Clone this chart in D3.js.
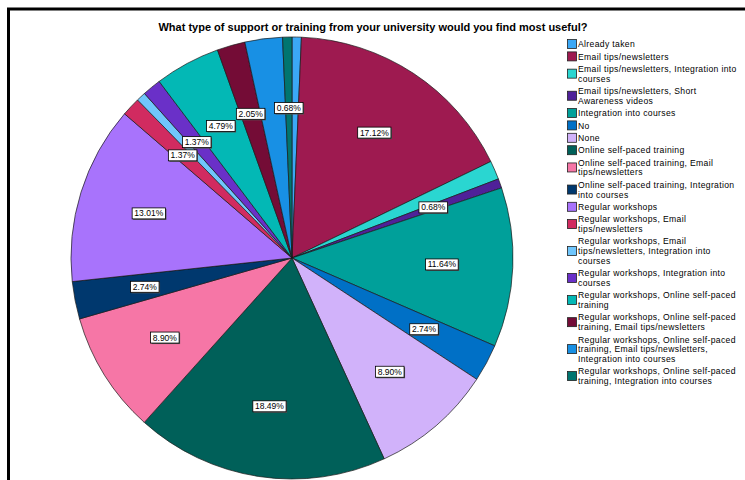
<!DOCTYPE html>
<html>
<head>
<meta charset="utf-8">
<script src="https://cdn.jsdelivr.net/npm/d3@7"></script>
<style>
  html, body { margin: 0; padding: 0; background: #ffffff; }
  svg { display: block; }
  text { font-family: "Liberation Sans", Arial, sans-serif; }
</style>
</head>
<body>
<svg id="chart" width="745" height="480"></svg>
<script>
// Survey responses: what support or training respondents would find most useful
const chartTitle = "What type of support or training from your university would you find most useful?";

const categories = [
  "Already taken",
  "Email tips/newsletters",
  "Email tips/newsletters, Integration into courses",
  "Email tips/newsletters, Short Awareness videos",
  "Integration into courses",
  "No",
  "None",
  "Online self-paced training",
  "Online self-paced training, Email tips/newsletters",
  "Online self-paced training, Integration into courses",
  "Regular workshops",
  "Regular workshops, Email tips/newsletters",
  "Regular workshops, Email tips/newsletters, Integration into courses",
  "Regular workshops, Integration into courses",
  "Regular workshops, Online self-paced training",
  "Regular workshops, Online self-paced training, Email tips/newsletters",
  "Regular workshops, Online self-paced training, Email tips/newsletters, Integration into courses",
  "Regular workshops, Online self-paced training, Integration into courses"
];

// Legend entries as wrapped lines
const legendLines = [
  ["Already taken"],
  ["Email tips/newsletters"],
  ["Email tips/newsletters, Integration into", "courses"],
  ["Email tips/newsletters, Short", "Awareness videos"],
  ["Integration into courses"],
  ["No"],
  ["None"],
  ["Online self-paced training"],
  ["Online self-paced training, Email", "tips/newsletters"],
  ["Online self-paced training, Integration", "into courses"],
  ["Regular workshops"],
  ["Regular workshops, Email", "tips/newsletters"],
  ["Regular workshops, Email", "tips/newsletters, Integration into", "courses"],
  ["Regular workshops, Integration into", "courses"],
  ["Regular workshops, Online self-paced", "training"],
  ["Regular workshops, Online self-paced", "training, Email tips/newsletters"],
  ["Regular workshops, Online self-paced", "training, Email tips/newsletters,", "Integration into courses"],
  ["Regular workshops, Online self-paced", "training, Integration into courses"]
];

// Percent of respondents per answer
const percents = [0.68, 17.12, 1.37, 0.68, 11.64, 2.74, 8.90, 18.49, 8.90, 2.74,
                  13.01, 1.37, 0.68, 1.37, 4.79, 2.05, 2.74, 0.68];

// Whether the slice carries a value label
const showLabel = [false, true, false, true, true, true, true, true, true, true,
                   true, true, false, true, true, true, false, true];

const colors = [
  "#3ba8f6", "#9e1a50", "#2ad6d1", "#4f2199", "#00a09a", "#0070c6",
  "#d1b2fa", "#006059", "#f676a6", "#00386e", "#a873fc", "#d12b60",
  "#70c6fc", "#6a30c8", "#03b8b5", "#740c36", "#1890e4", "#007570"
];

const svg = d3.select("#chart");

// Frame around the chart area
svg.append("rect")
  .attr("x", 8.5).attr("y", 9)
  .attr("width", 760).attr("height", 500)
  .attr("fill", "none")
  .attr("stroke", "#000")
  .attr("stroke-width", 3);

// Title
svg.append("text")
  .attr("x", 373)
  .attr("y", 31)
  .attr("text-anchor", "middle")
  .attr("font-weight", "bold")
  .attr("font-size", 11)
  .attr("fill", "#000")
  .text(chartTitle);

// Pie
const cx = 292, cy = 258, radius = 221;
const data = categories.map((c, i) => ({ name: c, value: percents[i], color: colors[i], label: showLabel[i] }));

const pie = d3.pie().sort(null).value(d => d.value);
const arcs = pie(data);
const arc = d3.arc().innerRadius(0).outerRadius(radius);
const labelArc = d3.arc().innerRadius(150).outerRadius(150);

const g = svg.append("g").attr("transform", `translate(${cx},${cy})`);

g.selectAll("path.slice")
  .data(arcs)
  .join("path")
  .attr("class", "slice")
  .attr("d", arc)
  .attr("fill", d => d.data.color)
  .attr("stroke", "#1a1a1a")
  .attr("stroke-width", 0.7)
  .attr("stroke-linejoin", "round");

// Value labels in boxed tags
const fmt = v => v.toFixed(2) + "%";
const labels = g.selectAll("g.lbl")
  .data(arcs.filter(d => d.data.label))
  .join("g")
  .attr("class", "lbl")
  .attr("transform", d => {
    const [x, y] = labelArc.centroid(d);
    return `translate(${x},${y})`;
  });

labels.each(function(d) {
  const sel = d3.select(this);
  const t = sel.append("text")
    .attr("text-anchor", "middle")
    .attr("dominant-baseline", "central")
    .attr("font-size", 8.5)
    .attr("fill", "#000")
    .text(fmt(d.data.value));
  const bb = t.node().getBBox();
  const w = bb.width + 4, h = 11;
  sel.insert("rect", "text")
    .attr("x", -w / 2 + 1).attr("y", -h / 2 + 1)
    .attr("width", w).attr("height", h)
    .attr("fill", "#555");
  sel.insert("rect", "text")
    .attr("x", -w / 2).attr("y", -h / 2)
    .attr("width", w).attr("height", h)
    .attr("fill", "#fff")
    .attr("stroke", "#000")
    .attr("stroke-width", 0.8);
});

// Legend: one text per entry, wrapped lines as tspans
const legendX = 567, textX = 578, lineH = 9.7, gap = 2.7;
let y = 44;
const legend = svg.append("g");
legendLines.forEach((lines, i) => {
  const blockMid = y + (lines.length - 1) * lineH / 2;
  legend.append("rect")
    .attr("x", legendX + 0.5).attr("y", blockMid - 4.5)
    .attr("width", 9).attr("height", 9)
    .attr("fill", colors[i])
    .attr("stroke", "#222")
    .attr("stroke-width", 0.8);
  const t = legend.append("text")
    .attr("font-size", 8.6)
    .attr("letter-spacing", 0.35)
    .attr("fill", "#000");
  lines.forEach((ln, j) => {
    t.append("tspan")
      .attr("x", textX)
      .attr("y", y + j * lineH + 3.1)
      .text(ln);
  });
  y += lines.length * lineH + gap;
});
</script>
</body>
</html>
